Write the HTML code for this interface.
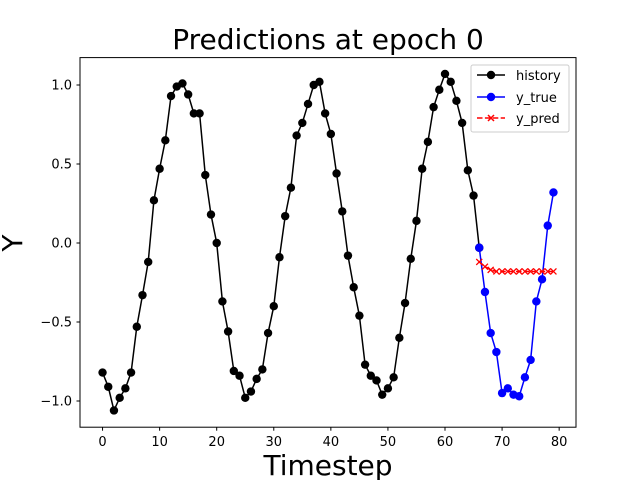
<!DOCTYPE html>
<html><head><meta charset="utf-8"><style>body{margin:0;background:#fff}svg{display:block;font-family:"DejaVu Sans","Liberation Sans",sans-serif}</style></head>
<body>
<svg id="chart" width="640" height="480" viewBox="0 0 640 480" xmlns="http://www.w3.org/2000/svg">
<rect width="640" height="480" fill="#fff"/>
<text x="328" y="49" font-size="28" text-anchor="middle">Predictions at epoch 0</text>
<g id="ticks"></g>
<g id="series"></g>
<rect x="80" y="57.6" width="496" height="369.6" fill="none" stroke="#000" stroke-width="1"/>
<text x="328" y="475" font-size="28" text-anchor="middle">Timestep</text>
<text x="22" y="243" font-size="28" text-anchor="middle" transform="rotate(-90 22 243)">Y</text>
<g>
<rect x="471" y="65" width="98" height="67" rx="2" fill="#fff" fill-opacity="0.8" stroke="#ccc"/>
<g><line x1="477" y1="75" x2="505" y2="75" stroke="#000" stroke-width="1.5"/><circle cx="491" cy="75" r="4.2" fill="#000"/><text x="516" y="80" font-size="13">history</text></g>
<g><line x1="477" y1="97" x2="505" y2="97" stroke="#00f" stroke-width="1.5"/><circle cx="491" cy="97" r="4.2" fill="#00f"/><text x="516" y="102" font-size="13">y_true</text></g>
<g><line x1="477" y1="118" x2="505" y2="118" stroke="#f00" stroke-width="1.5" stroke-dasharray="5.5,2.4"/><path d="M488 115l6 6M494 115l-6 6" stroke="#f00" stroke-width="1.5"/><text x="516" y="123" font-size="13">y_pred</text></g>
</g>
</svg>
<script>
const history = [-0.82,-0.91,-1.06,-0.98,-0.92,-0.82,-0.53,-0.33,-0.12,0.27,0.47,0.65,0.93,0.99,1.01,0.94,0.82,0.82,0.43,0.18,0.00,-0.37,-0.56,-0.81,-0.84,-0.98,-0.94,-0.86,-0.80,-0.57,-0.40,-0.09,0.17,0.35,0.68,0.76,0.88,1.00,1.02,0.82,0.69,0.44,0.20,-0.08,-0.28,-0.46,-0.77,-0.84,-0.87,-0.96,-0.92,-0.85,-0.60,-0.38,-0.10,0.14,0.47,0.64,0.86,0.97,1.07,1.02,0.90,0.76,0.46,0.30,-0.03];
const yTrue = [-0.03,-0.31,-0.57,-0.69,-0.95,-0.92,-0.96,-0.97,-0.85,-0.74,-0.37,-0.23,0.11,0.32];
const yPred = [-0.12,-0.15,-0.17,-0.18,-0.18,-0.18,-0.18,-0.18,-0.18,-0.18,-0.18,-0.18,-0.18,-0.18];
const xTicks = [0,10,20,30,40,50,60,70,80];
const yTicks = [-1.0,-0.5,0.0,0.5,1.0];
const NS="http://www.w3.org/2000/svg";
const X0=80,X1=576,xmin=-3.95,xmax=82.95;
const sx=v=>X0+(v-xmin)/(xmax-xmin)*(X1-X0);
const sy=v=>243-v*158;
function mk(t,a,p){const e=document.createElementNS(NS,t);for(const k in a)e.setAttribute(k,a[k]);p.appendChild(e);return e;}
const tg=document.getElementById('ticks');
xTicks.forEach(v=>{const g=mk('g',{},tg);


mk('line',{x1:sx(v),x2:sx(v),y1:427.2,y2:430.7,stroke:'#000'},g);
const t=mk('text',{x:sx(v),y:446,'font-size':13,'text-anchor':'middle'},g);t.textContent=v;});
yTicks.forEach(v=>{const g=mk('g',{},tg);


mk('line',{x1:76.5,x2:80,y1:sy(v),y2:sy(v),stroke:'#000'},g);
const t=mk('text',{x:72,y:sy(v)+4.5,'font-size':13,'text-anchor':'end'},g);t.textContent=(v<0?'\u2212':'')+Math.abs(v).toFixed(1);});
const sg=document.getElementById('series');
function series(arr,off,color,name,dash,marker){
const g=mk('g',{},sg);


const pts=arr.map((v,i)=>sx(i+off)+','+sy(v)).join(' ');
const l=mk('polyline',{points:pts,fill:'none',stroke:color,'stroke-width':1.5},g);
if(dash)l.setAttribute('stroke-dasharray',dash);
arr.forEach((v,i)=>{const x=sx(i+off),y=sy(v);
if(marker==='o'){const c=mk('circle',{cx:x,cy:y,r:4.2,fill:color},g);

}
else{const p=mk('path',{d:`M${x-3} ${y-3}l6 6M${x+3} ${y-3}l-6 6`,stroke:color,'stroke-width':1.3},g);

}});
}
series(history,0,'#000','history-series',null,'o');
series(yTrue,66,'#00f','y-true-series',null,'o');
series(yPred,66,'#f00','y-pred-series','5.5,2.4','x');
</script>
</body></html>
